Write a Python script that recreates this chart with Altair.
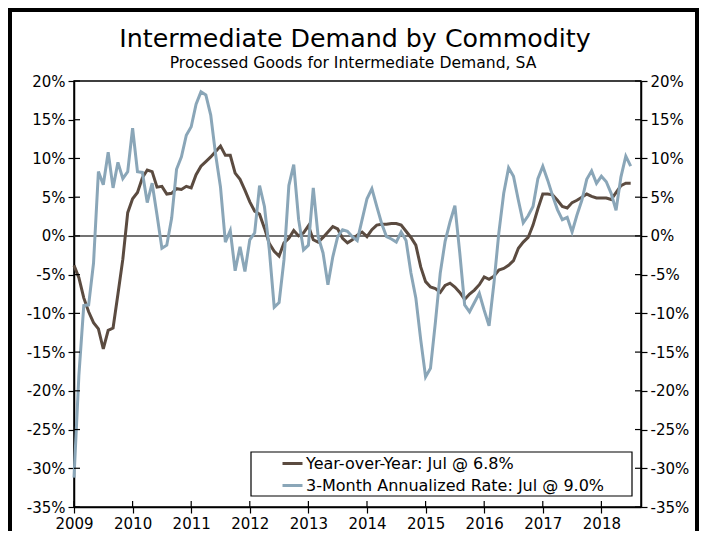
import altair as alt
import pandas as pd

# Monthly data, Jan 2009 .. Jul 2018
start_year = 2009
yoy = [
    -3.8, -5.4, -8.0, -9.8, -11.2, -12.0, -14.6, -12.2, -11.9, -7.5, -3.0, 3.0,
    4.8, 5.6, 7.5, 8.5, 8.3, 6.3, 6.4, 5.4, 5.5, 6.1, 6.0, 6.4,
    6.2, 7.9, 9.0, 9.6, 10.2, 10.9, 11.6, 10.4, 10.4, 8.1, 7.3, 5.9,
    4.4, 3.2, 2.8, 1.0, -1.0, -2.0, -2.6, -0.9, -0.3, 0.7, 0.0, 0.4,
    1.3, -0.5, -0.8, -0.2, 0.5, 1.2, 0.9, -0.3, -0.9, -0.5, 0.1, 0.5,
    -0.1, 0.8, 1.4, 1.5, 1.5, 1.6, 1.6, 1.4, 0.6, -0.2, -1.2, -4.0,
    -5.9, -6.6, -6.8, -7.3, -6.4, -6.1, -6.6, -7.3, -8.2, -7.5, -7.0, -6.3,
    -5.3, -5.6, -5.2, -4.4, -4.2, -3.8, -3.2, -1.6, -0.8, -0.2, 1.4, 3.5,
    5.4, 5.4, 5.3, 4.6, 3.8, 3.6, 4.3, 4.6, 5.0, 5.4, 5.1, 4.9,
    4.9, 4.9, 4.7, 5.6, 6.5, 6.8, 6.8,
]
ann3m = [
    -31.2, -18.0, -9.0, -8.9, -3.5, 8.3, 6.6, 10.8, 6.2, 9.5, 7.4, 8.3,
    13.9, 8.3, 8.2, 4.3, 6.8, 2.7, -1.6, -1.2, 2.3, 8.6, 10.2, 13.0,
    14.1, 17.0, 18.6, 18.2, 15.6, 10.5, 6.3, -0.8, 0.7, -4.5, -1.4, -4.6,
    -0.5, 0.4, 6.5, 3.8, -1.8, -9.2, -8.6, -3.1, 6.5, 9.2, 2.1, -1.8,
    -1.2, 6.2, -0.1, -2.2, -6.3, -2.7, -0.1, 0.8, 0.6, -0.1, -0.6, 2.1,
    4.8, 6.1, 3.8, 1.6, -0.1, -0.4, -0.8, 0.5, -0.6, -4.8, -8.0, -13.4,
    -18.2, -17.1, -11.2, -4.8, -0.7, 1.8, 3.9, -2.2, -8.9, -9.8, -8.6, -7.4,
    -9.6, -11.6, -6.1, 0.4, 5.5, 8.8, 7.7, 4.6, 1.7, 2.6, 3.8, 7.4,
    9.0, 7.2, 5.2, 3.4, 2.1, 2.4, 0.5, 2.7, 4.6, 7.3, 8.4, 6.8,
    7.7, 7.0, 5.5, 3.3, 7.6, 10.3, 9.0,
]
series_names = ["Year-over-Year: Jul @ 6.8%", "3-Month Annualized Rate: Jul @ 9.0%"]
series_colors = ["#5b4b40", "#8aa6b8"]
year_ticks = list(range(2009, 2019))
y_ticks = list(range(-35, 25, 5))
title_text = "Intermediate Demand by Commodity"
subtitle_text = "Processed Goods for Intermediate Demand, SA"

n = len(yoy)
xpos = [start_year + i / 12 for i in range(n)]
df = pd.DataFrame({
    "x": xpos * 2,
    "value": yoy + ann3m,
    "series": [series_names[0]] * n + [series_names[1]] * n,
})
ticks_y = pd.DataFrame({"v": y_ticks})
ticks_x = pd.DataFrame({"yr": year_ticks})

W, H = 567, 426
FONT = "DejaVu Sans"
xscale = alt.Scale(domain=[2009, 2018.676], nice=False, zero=False)
yscale = alt.Scale(domain=[-35, 20], nice=False, zero=False)
xaxis = alt.Axis(values=year_ticks, format="d", title=None, grid=False,
                 labelFontSize=15, labelFont=FONT, labelColor="black",
                 tickSize=6, tickColor="black", tickWidth=1.2,
                 domainColor="black", domainWidth=1.5, labelPadding=3,
                 labelFlush=False)

def yaxis(orient):
    return alt.Axis(values=y_ticks, labelExpr="datum.value + '%'", title=None,
                    grid=False, orient=orient, labelFontSize=15, labelFont=FONT,
                    labelColor="black", tickSize=6, tickColor="black",
                    tickWidth=1.2, domainColor="black", domainWidth=1.5,
                    labelPadding=3)

zero = alt.Chart(pd.DataFrame({"z": [0]})).mark_rule(
    color="#444444", strokeWidth=1.5).encode(
    y=alt.Y("z:Q", scale=yscale, axis=None))

lines = alt.Chart(df).mark_line(strokeWidth=3).encode(
    x=alt.X("x:Q", scale=xscale, axis=xaxis),
    y=alt.Y("value:Q", scale=yscale, axis=yaxis("left")),
    color=alt.Color("series:N", scale=alt.Scale(domain=series_names, range=series_colors),
                    sort=series_names,
                    legend=alt.Legend(title=None, orient="none", legendX=207, legendY=371,
                                      symbolType="stroke", symbolSize=400,
                                      symbolStrokeWidth=3, labelFontSize=16,
                                      labelFont=FONT, labelColor="black", labelLimit=500,
                                      labelOffset=2, rowPadding=2, padding=0)),
    detail="series:N",
)

box = alt.Chart(pd.DataFrame({"a": [0]})).mark_rect(
    fill="white", stroke="black", strokeWidth=1.2).encode(
    x=alt.value(177), x2=alt.value(558), y=alt.value(371), y2=alt.value(415))

left_in = alt.Chart(ticks_y).mark_rule(color="black", strokeWidth=1.2).encode(
    y=alt.Y("v:Q", scale=yscale, axis=None), x=alt.value(0), x2=alt.value(6))
right_in = alt.Chart(ticks_y).mark_rule(color="black", strokeWidth=1.2).encode(
    y=alt.Y("v:Q", scale=yscale, axis=yaxis("right")), x=alt.value(W - 6), x2=alt.value(W))
bottom_in = alt.Chart(ticks_x).mark_rule(color="black", strokeWidth=1.2).encode(
    x=alt.X("yr:Q", scale=xscale, axis=xaxis), y=alt.value(H - 6), y2=alt.value(H))

frame = alt.Chart(pd.DataFrame({"a": [0]}))
f_left = frame.mark_rule(color="black", strokeWidth=4).encode(
    x=alt.value(-64), y=alt.value(-73), y2=alt.value(H + 24))
f_top = frame.mark_rule(color="black", strokeWidth=4).encode(
    x=alt.value(-66), x2=alt.value(W + 58), y=alt.value(-71))
f_right = frame.mark_rule(color="black", strokeWidth=4).encode(
    x=alt.value(W + 56), y=alt.value(-73), y2=alt.value(H + 24))

title = frame.mark_text(font=FONT, fontSize=25.3, color="black", align="center",
                        baseline="alphabetic").encode(
    x=alt.value(281), y=alt.value(-34), text=alt.value(title_text))
subtitle = frame.mark_text(font=FONT, fontSize=15.6, color="black", align="center",
                           baseline="alphabetic").encode(
    x=alt.value(279), y=alt.value(-13), text=alt.value(subtitle_text))

chart = alt.layer(zero, lines, box, left_in, right_in, bottom_in,
                  f_left, f_top, f_right, title, subtitle).resolve_scale(
    y="independent"
).properties(
    width=W, height=H,
    autosize=alt.AutoSizeParams(type="none"),
    padding={"left": 66, "top": 73, "right": 58, "bottom": 24},
).configure_view(stroke="black", strokeWidth=1.5)

chart.save("out.html", embed_options={"renderer": "svg", "actions": False})
